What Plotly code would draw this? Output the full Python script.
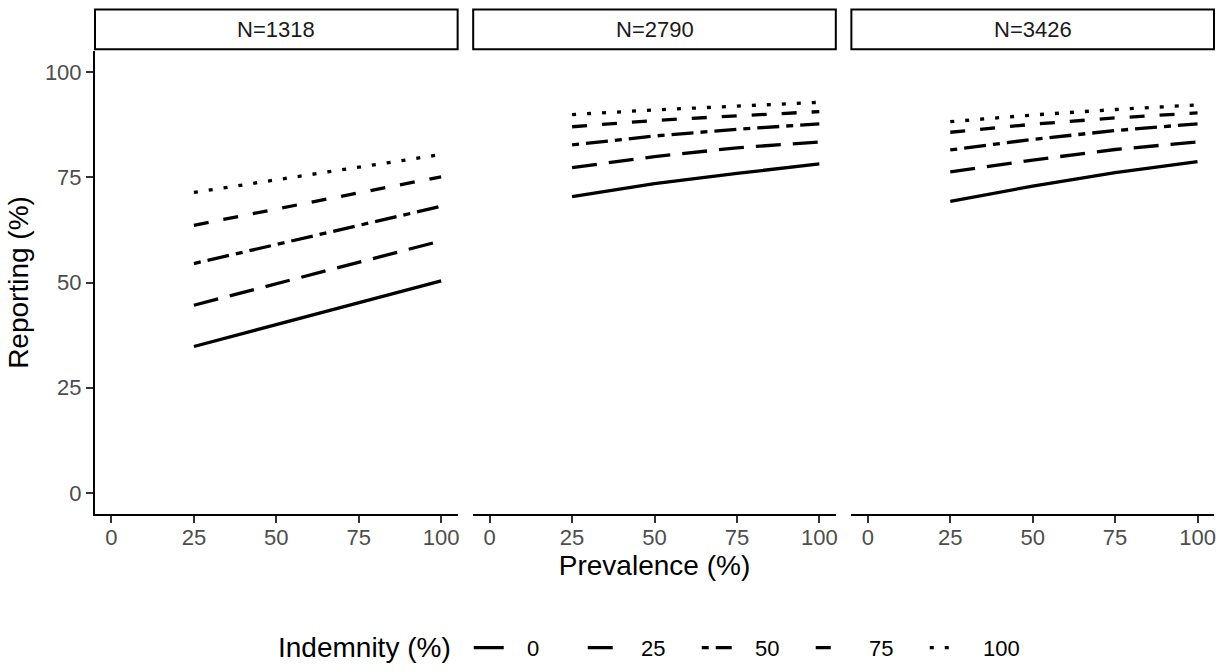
import plotly.graph_objects as go
from plotly.subplots import make_subplots

prevalence = [25, 50, 75, 100]
panels = ["N=1318", "N=2790", "N=3426"]
indemnity = ["0", "25", "50", "75", "100"]

# Reporting (%) per panel, per indemnity level, at prevalence 25/50/75/100
rep_1318 = {
    "0":   [34.8, 40.0, 45.2, 50.4],
    "25":  [44.6, 49.7, 54.8, 59.9],
    "50":  [54.5, 59.1, 63.6, 68.1],
    "75":  [63.6, 67.5, 71.3, 75.1],
    "100": [71.4, 74.4, 77.4, 80.4],
}
rep_2790 = {
    "0":   [70.4, 73.5, 75.9, 78.2],
    "25":  [77.3, 79.9, 82.0, 83.4],
    "50":  [82.7, 84.8, 86.4, 87.7],
    "75":  [87.0, 88.5, 89.6, 90.6],
    "100": [89.9, 91.0, 91.9, 92.8],
}
rep_3426 = {
    "0":   [69.3, 72.9, 76.1, 78.7],
    "25":  [76.3, 79.1, 81.6, 83.4],
    "50":  [81.5, 84.0, 86.1, 87.7],
    "75":  [85.7, 87.6, 89.1, 90.3],
    "100": [88.2, 89.8, 91.1, 92.2],
}
data = [rep_1318, rep_2790, rep_3426]

dashes = {
    "0": "solid",
    "25": "25px,12px",
    "50": "7px,7px,22px,7px",
    "75": "15px,15px",
    "100": "4px,11px",
}

FONT = "Liberation Sans, Arial, sans-serif"
SMALL = 22
BIG = 28
PAD = "\u00a0\u00a0\u00a0"  # visual gap between legend key and its label

fig = make_subplots(rows=1, cols=3, shared_yaxes=True, horizontal_spacing=0.0139)

for p, d in enumerate(data):
    for lvl in indemnity:
        fig.add_trace(
            go.Scatter(
                x=prevalence, y=d[lvl], mode="lines",
                line=dict(color="black", width=3.3, dash=dashes[lvl]),
                name=PAD + lvl, legendgroup=lvl, showlegend=(p == 0),
            ),
            row=1, col=p + 1,
        )

tick_common = dict(
    ticks="outside", ticklen=7, tickcolor="#333333", tickwidth=2,
    tickfont=dict(size=SMALL, color="#4D4D4D", family=FONT),
)
for c in range(1, 4):
    fig.update_xaxes(
        range=[-5, 105], tickvals=[0, 25, 50, 75, 100],
        showline=True, linecolor="black", linewidth=2,
        ticklabelstandoff=-4, automargin=False,
        showgrid=False, zeroline=False, row=1, col=c, **tick_common,
    )
    fig.update_yaxes(
        range=[-5, 105], tickvals=[0, 25, 50, 75, 100],
        showgrid=False, zeroline=False, automargin=False, row=1, col=c,
    )
fig.update_yaxes(
    showline=True, linecolor="black", linewidth=2,
    ticklabelstandoff=0,
    title=dict(text="Reporting (%)", font=dict(size=BIG, color="black", family=FONT), standoff=8),
    row=1, col=1, **tick_common,
)
fig.update_xaxes(
    title=dict(text="Prevalence (%)", font=dict(size=BIG, color="black", family=FONT), standoff=0),
    row=1, col=2,
)

# facet strips
for i, lab in enumerate(panels):
    xa = "x" if i == 0 else f"x{i+1}"
    fig.add_shape(
        type="rect", xref=f"{xa} domain", yref="paper",
        x0=0, x1=1, y0=1.004, y1=1.0896,
        line=dict(color="black", width=2), fillcolor="white",
    )
    fig.add_annotation(
        text=lab, xref=f"{xa} domain", yref="paper", x=0.5, y=1.047,
        showarrow=False, font=dict(size=SMALL, color="#1A1A1A", family=FONT),
        xanchor="center", yanchor="middle",
    )

# legend title drawn as text so it sits on the same line as the keys
fig.add_annotation(
    text="Indemnity (%)", xref="paper", yref="paper", x=0.3199, y=-0.289,
    xanchor="right", yanchor="middle", showarrow=False,
    font=dict(size=BIG, color="black", family=FONT),
)

fig.update_layout(
    width=1226, height=672,
    margin=dict(l=95, r=12, t=51, b=158, autoexpand=False),
    plot_bgcolor="white", paper_bgcolor="white",
    font=dict(family=FONT, color="black"),
    legend=dict(
        orientation="h", x=0.334, xanchor="left", y=-0.289, yanchor="middle",
        font=dict(size=SMALL, color="black", family=FONT),
        entrywidth=69,
    ),
)

fig.write_html(
    "out.html",
    config={"displayModeBar": False},
    post_script="document.body.style.margin='0';",
)
